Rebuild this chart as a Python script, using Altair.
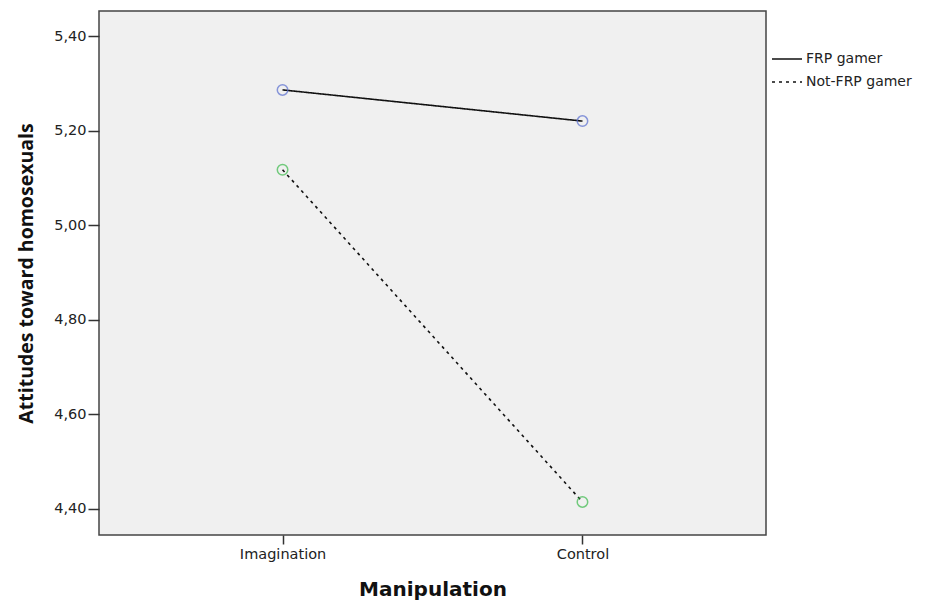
import altair as alt
import pandas as pd

manipulation = ["Imagination", "Control"]
groups = ["FRP gamer", "Not-FRP gamer"]
marker_keys = ["m_frp", "m_not_frp"]
frp_values = [5.286, 5.220]
not_frp_values = [5.117, 4.414]

rows = []
for m, v in zip(manipulation, frp_values):
    rows.append({"Manipulation": m, "Group": groups[0], "Marker": marker_keys[0], "Value": v})
for m, v in zip(manipulation, not_frp_values):
    rows.append({"Manipulation": m, "Group": groups[1], "Marker": marker_keys[1], "Value": v})
df = pd.DataFrame(rows)

x = alt.X("Manipulation:N", sort=manipulation,
          scale=alt.Scale(type="point", padding=0.612),
          axis=alt.Axis(title="Manipulation", labelAngle=0, tickSize=9,
                        labelFont="DejaVu Sans", labelFontSize=14.5, labelColor="#222",
                        labelPadding=3, tickColor="#333", tickWidth=1.5,
                        titleFont="DejaVu Sans", titleFontSize=20, titleFontWeight="bold",
                        titleColor="#111", titlePadding=19, domain=False, grid=False))
y = alt.Y("Value:Q",
          scale=alt.Scale(domain=[4.344, 5.453], nice=False, zero=False),
          axis=alt.Axis(title="Attitudes toward homosexuals", values=[4.4, 4.6, 4.8, 5.0, 5.2, 5.4],
                        labelExpr="replace(format(datum.value, '.2f'), '.', ',')",
                        tickSize=11, tickColor="#333", tickWidth=1.5, labelPadding=2,
                        labelFont="DejaVu Sans", labelFontSize=14.5, labelColor="#222",
                        titleFont="Open Sans", titleFontSize=19.5, titleFontWeight="bold",
                        titleColor="#111", titlePadding=17, domain=False, grid=False))

lines = alt.Chart(df).mark_line(color="#111", strokeWidth=1.6).encode(
    x=x, y=y,
    strokeDash=alt.StrokeDash("Group:N", sort=groups,
                              scale=alt.Scale(domain=groups, range=[[1, 0], [3, 4]]),
                              legend=alt.Legend(title=None, orient="none", legendX=672, legendY=32,
                                                symbolType="stroke", symbolSize=900,
                                                symbolStrokeColor="#111", symbolStrokeWidth=1.6,
                                                labelFont="DejaVu Sans", labelFontSize=14,
                                                labelColor="#222", labelOffset=3, rowPadding=-8)),
)

points = alt.Chart(df).mark_point(filled=False, size=110, strokeWidth=1.5, shape="circle").encode(
    x=x, y=y,
    color=alt.Color("Marker:N", scale=alt.Scale(domain=marker_keys, range=["#5a6fd0", "#3cba4c"]), legend=None),
)

chart = alt.layer(lines, points).resolve_legend(color="independent", strokeDash="independent").properties(
    width=667, height=524,
    autosize=alt.AutoSizeParams(type="none"),
    padding={"left": 91, "top": 3, "right": 152, "bottom": 66},
).configure_view(fill="#f0f0f0", stroke="#444", strokeWidth=1.5)

chart.save("out.html", embed_options={"renderer": "svg", "actions": False})
